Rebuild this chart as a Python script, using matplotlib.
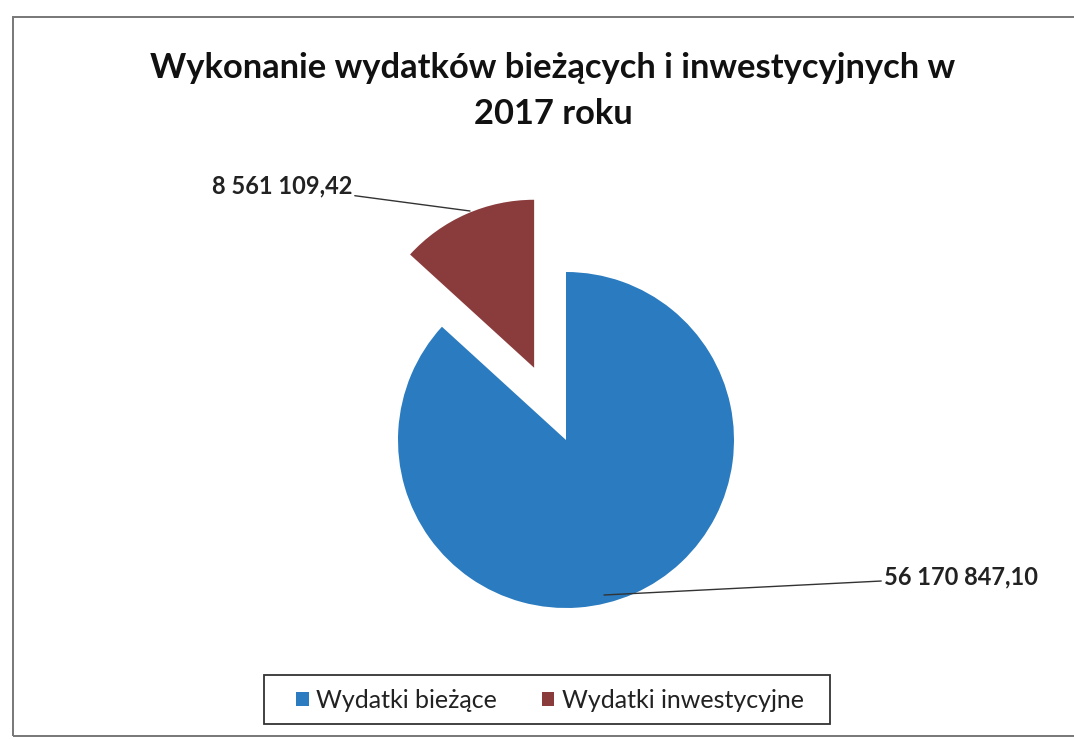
import matplotlib
matplotlib.use("Agg")
import matplotlib.pyplot as plt
from matplotlib.patches import Rectangle, Patch

plt.rcParams['font.family'] = ['Lato', 'DejaVu Sans']

title = "Wykonanie wydatków bieżących i inwestycyjnych w\n2017 roku"
categories = ["Wydatki bieżące", "Wydatki inwestycyjne"]
values = [56170847.10, 8561109.42]
value_labels = ["56 170 847,10", "8 561 109,42"]
colors = ["#2a7bbf", "#8a3c3d"]

W, H = 1074, 739
fig = plt.figure(figsize=(W / 100, H / 100), dpi=100)
ax = fig.add_axes([0, 0, 1, 1])
ax.set_xlim(0, W)
ax.set_ylim(0, H)
ax.set_aspect('equal')
ax.axis('off')

cx, cy, r = 566, H - 440, 168
wedges, _ = ax.pie(values, colors=colors, startangle=90, counterclock=False,
                   explode=[0, 0.47 * r], center=(cx, cy), radius=r,
                   wedgeprops=dict(linewidth=0))
ax.set_xlim(0, W)
ax.set_ylim(0, H)

# chart frame (right edge lies outside the image, as in the scan)
fig.patches.append(Rectangle((13 / W, 1 - 736 / H), (1090 - 13) / W, (736 - 17) / H,
                             transform=fig.transFigure, fill=False,
                             edgecolor="#777777", linewidth=1.4))

fig.text(553 / W, 1 - 91 / H, title, ha='center', va='center', fontsize=24.8,
         fontweight='bold', color='#111111', linespacing=1.5)

# data labels with leader lines
ax.annotate(value_labels[1], xy=(470, H - 211), xytext=(352, H - 186),
            ha='right', va='center', fontsize=17, fontweight='bold', color='#222222',
            arrowprops=dict(arrowstyle='-', color='#333333', lw=1,
                            shrinkA=0, shrinkB=0))
ax.annotate(value_labels[0], xy=(604, H - 595), xytext=(884, H - 577),
            ha='left', va='center', fontsize=17, fontweight='bold', color='#222222',
            arrowprops=dict(arrowstyle='-', color='#333333', lw=1,
                            shrinkA=0, shrinkB=0))

handles = [Patch(facecolor=c, edgecolor='none') for c in colors]
leg = fig.legend(handles, categories, loc='center', bbox_to_anchor=(550 / W, 1 - 700 / H),
                 ncol=2, fontsize=18, frameon=False,
                 handlelength=0.5, handleheight=0.5, handletextpad=0.3,
                 columnspacing=1.8, borderpad=0.45, borderaxespad=0)
for t in leg.get_texts():
    t.set_color('#222222')

# legend frame
fig.patches.append(Rectangle((264 / W, 1 - 724 / H), (830 - 264) / W, (724 - 675) / H,
                             transform=fig.transFigure, fill=False,
                             edgecolor="#333333", linewidth=1.3))

fig.savefig("out.png", dpi=100, facecolor='white')
